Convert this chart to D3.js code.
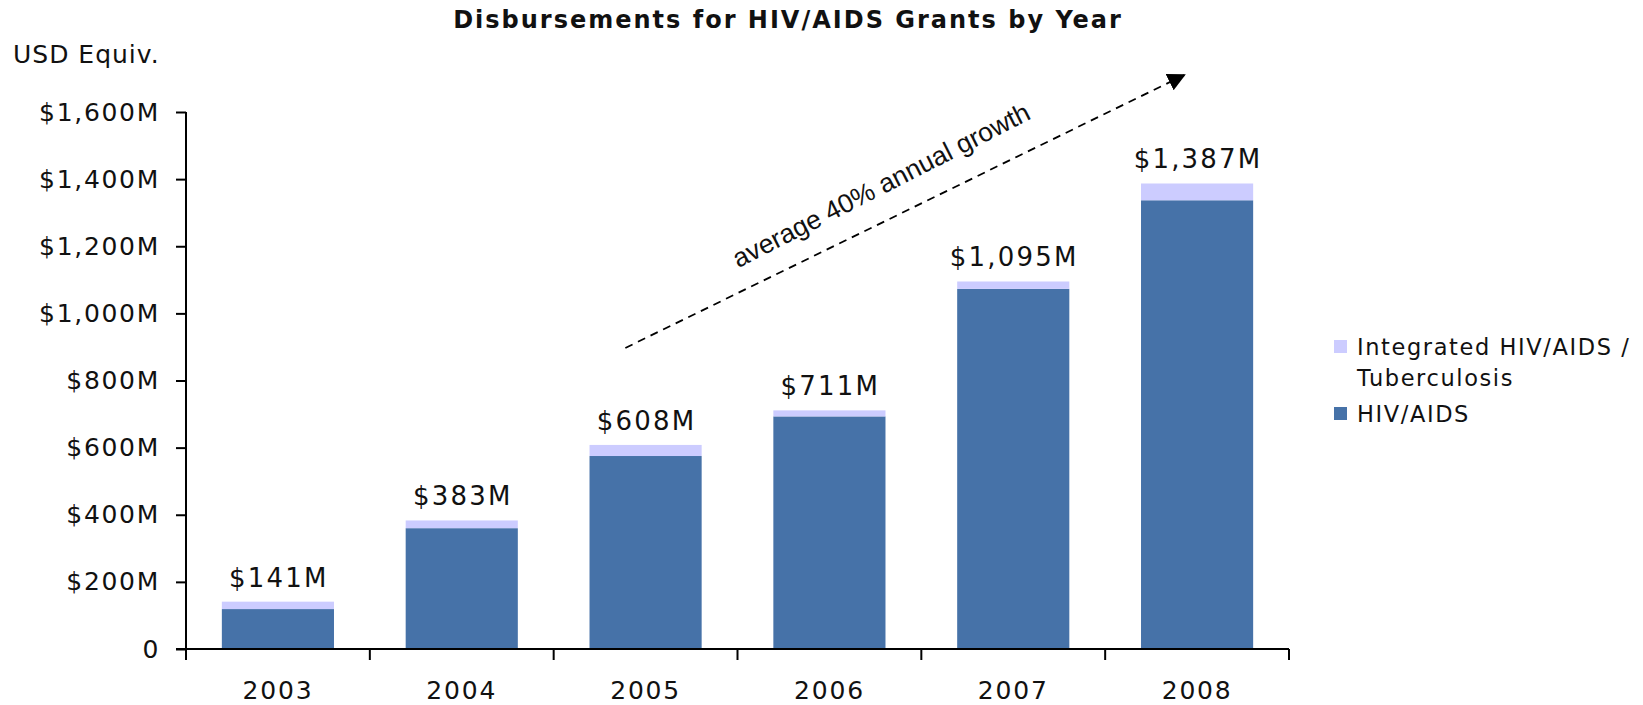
<!DOCTYPE html>
<html>
<head>
<meta charset="utf-8">
<script src="https://cdn.jsdelivr.net/npm/d3@7"></script>
<style>
  body { margin: 0; background: #fff; }
  text { font-family: "DejaVu Sans", Verdana, sans-serif; fill: #111; }
</style>
</head>
<body>
<svg></svg>
<script>
let years = ["2003", "2004", "2005", "2006", "2007", "2008"];
let hivAids = [119, 360, 575, 693, 1073, 1337];
let integrated = [22, 23, 33, 18, 22, 50];
let totals = [141, 383, 608, 711, 1095, 1387];
let yTicks = [0, 200, 400, 600, 800, 1000, 1200, 1400, 1600];

// growth arrow in data units: [band index offset, value]
let arrowFrom = [2.39, 897];
let arrowTo = [5.43, 1710];

let width = 1643;
let height = 705;
let darkBlue = "#4672a8";
let lavender = "#ccccff";

let svg = d3.select("svg").attr("width", width).attr("height", height);

let x = d3.scaleBand()
    .domain(years)
    .range([186, 1289])
    .paddingInner(0.39)
    .paddingOuter(0.195);

let y = d3.scaleLinear()
    .domain([0, 1600])
    .range([649, 112]);

// position along the category axis in band units
let xUnits = d3.scaleLinear().domain([0, years.length]).range(x.range());

// title
svg.append("text")
    .attr("x", 788)
    .attr("y", 28)
    .attr("text-anchor", "middle")
    .style("font-weight", "bold")
    .style("font-size", "24px")
    .style("letter-spacing", "2px")
    .text("Disbursements for HIV/AIDS Grants by Year");

svg.append("text")
    .attr("x", 13)
    .attr("y", 63)
    .style("font-size", "25px")
    .style("letter-spacing", "1px")
    .text("USD Equiv.");

// bars: dark bottom segment, lavender on top
let stackData = years.map((yr, i) => ({ year: yr, hiv: hivAids[i], integ: integrated[i], total: totals[i] }));

svg.selectAll("rect.hiv")
    .data(stackData)
    .enter()
    .append("rect")
    .attr("class", "hiv")
    .attr("x", d => x(d.year))
    .attr("width", x.bandwidth())
    .attr("y", d => y(d.hiv))
    .attr("height", d => y(0) - y(d.hiv))
    .attr("fill", darkBlue);

svg.selectAll("rect.integ")
    .data(stackData)
    .enter()
    .append("rect")
    .attr("class", "integ")
    .attr("x", d => x(d.year))
    .attr("width", x.bandwidth())
    .attr("y", d => y(d.hiv + d.integ))
    .attr("height", d => y(d.hiv) - y(d.hiv + d.integ))
    .attr("fill", lavender);

// value labels
svg.selectAll("text.total")
    .data(stackData)
    .enter()
    .append("text")
    .attr("class", "total")
    .attr("x", d => x(d.year) + x.bandwidth() / 2 + 1)
    .attr("y", d => y(d.hiv + d.integ) - 15)
    .attr("text-anchor", "middle")
    .style("font-size", "26px")
    .style("letter-spacing", "2.2px")
    .text(d => "$" + d3.format(",")(d.total) + "M");

// y axis
let yAxis = d3.axisLeft(y)
    .tickValues(yTicks)
    .tickSize(10)
    .tickPadding(16)
    .tickFormat(d => d === 0 ? "0" : "$" + d3.format(",")(d) + "M");

let gy = svg.append("g")
    .attr("transform", "translate(186,0)")
    .call(yAxis);
gy.select(".domain").attr("stroke", "#000").attr("stroke-width", 2).attr("d", "M0," + y(1600) + "V" + y(0));
gy.selectAll(".tick line").attr("stroke", "#000").attr("stroke-width", 2);
gy.selectAll(".tick text")
    .style("font-family", "DejaVu Sans, Verdana, sans-serif")
    .style("font-size", "25px")
    .style("letter-spacing", "1.7px")
    .attr("fill", "#111");

// x axis: labels centered, ticks on band boundaries
let gx = svg.append("g")
    .attr("transform", "translate(0," + y(0) + ")")
    .call(d3.axisBottom(x).tickSize(0).tickPadding(32));
gx.select(".domain").attr("stroke", "#000").attr("stroke-width", 2).attr("d", "M" + (x.range()[0] - 10) + ",0H" + x.range()[1]);
gx.selectAll(".tick text")
    .style("font-family", "DejaVu Sans, Verdana, sans-serif")
    .style("font-size", "25px")
    .style("letter-spacing", "1.8px")
    .attr("fill", "#111");

svg.append("g")
    .selectAll("line")
    .data(d3.range(years.length + 1))
    .enter()
    .append("line")
    .attr("x1", d => xUnits(d))
    .attr("x2", d => xUnits(d))
    .attr("y1", y(0))
    .attr("y2", y(0) + 11)
    .attr("stroke", "#000")
    .attr("stroke-width", 2);

// growth arrow
svg.append("defs").append("marker")
    .attr("id", "head")
    .attr("viewBox", "0 0 10 10")
    .attr("refX", 9)
    .attr("refY", 5)
    .attr("markerWidth", 18)
    .attr("markerHeight", 18)
    .attr("markerUnits", "userSpaceOnUse")
    .attr("orient", "auto")
    .append("path")
    .attr("d", "M0,0L10,5L0,10Z")
    .attr("fill", "#000");

let ax1 = xUnits(arrowFrom[0]), ay1 = y(arrowFrom[1]);
let ax2 = xUnits(arrowTo[0]), ay2 = y(arrowTo[1]);

svg.append("line")
    .attr("x1", ax1).attr("y1", ay1)
    .attr("x2", ax2).attr("y2", ay2)
    .attr("stroke", "#000")
    .attr("stroke-width", 1.8)
    .attr("stroke-dasharray", "8,6")
    .attr("marker-end", "url(#head)");

let angle = Math.atan2(ay2 - ay1, ax2 - ax1) * 180 / Math.PI;
svg.append("text")
    .attr("transform", "translate(881,185) rotate(" + (angle - 1) + ")")
    .attr("text-anchor", "middle")
    .attr("dy", "0.35em")
    .style("font-family", "Liberation Sans, Arial, sans-serif")
    .style("font-size", "26.5px")
    .text("average 40% annual growth");

// legend
let legendItems = [
    { color: lavender, lines: ["Integrated HIV/AIDS /", "Tuberculosis"], y: 340 },
    { color: darkBlue, lines: ["HIV/AIDS"], y: 407 }
];
let lg = svg.append("g");
legendItems.forEach(item => {
    lg.append("rect")
        .attr("x", 1334)
        .attr("y", item.y)
        .attr("width", 13)
        .attr("height", 13)
        .attr("fill", item.color);
    item.lines.forEach((ln, j) => {
        lg.append("text")
            .attr("x", 1357)
            .attr("y", item.y + 15 + j * 31)
            .style("font-size", "22.5px")
            .style("letter-spacing", "1.6px")
            .text(ln);
    });
});
</script>
</body>
</html>
